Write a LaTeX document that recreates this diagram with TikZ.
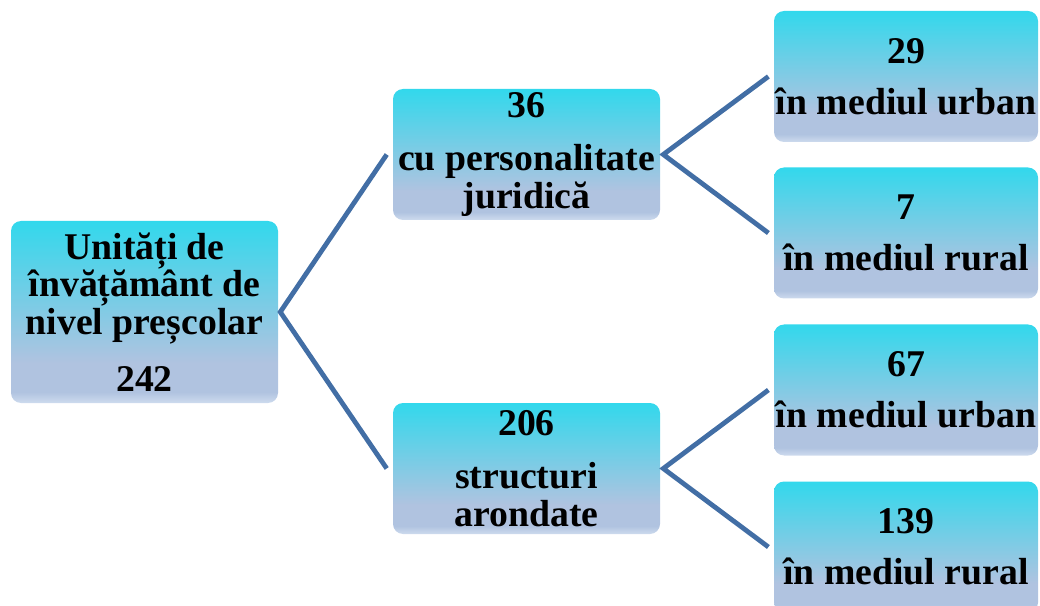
\documentclass[tikz,border=0pt]{standalone}
\usepackage{fontspec}
\setmainfont{Liberation Serif}
\definecolor{ctop}{RGB}{50,216,236}
\definecolor{clav}{RGB}{176,195,224}
\definecolor{cbot}{RGB}{206,219,238}
\definecolor{linec}{RGB}{66,110,165}
\pgfdeclareverticalshading{boxshade}{100bp}{color(0bp)=(cbot); color(25bp)=(cbot); color(28bp)=(clav); color(36bp)=(clav); color(75bp)=(ctop); color(100bp)=(ctop)}
\tikzset{
  box/.style={shade, shading=boxshade, rounded corners=7.5pt, inner sep=0pt, align=center,
    font=\bfseries\fontsize{28.3}{28.1}\selectfont},
  rootbox/.style={box, minimum width=200.25pt, minimum height=136.5pt},
  midbox/.style={box, minimum width=200.25pt, minimum height=98.25pt},
  leafbox/.style={box, minimum width=198pt, minimum height=98.25pt},
  conn/.style={draw=linec, line width=3.6pt}
}
\begin{document}
\begin{tikzpicture}[x=0.75pt,y=0.75pt]
\useasboundingbox (0,0) rectangle (1040,-606);
\clip (0,0) rectangle (1040,-606);
\node[rootbox] (root) at (144.5,-312) {Unități de\\învățământ de\\nivel preșcolar\\[15pt]242};
\node[midbox] (mid1) at (526.5,-154.5) {36\\[12pt]cu personalitate\\juridică};
\node[midbox] (mid2) at (526.5,-468.5) {206\\[12pt]structuri\\arondate};
\node[leafbox] (leaf1) at (906,-76.5) {29\\[10pt]în mediul urban};
\node[leafbox] (leaf2) at (906,-233) {7\\[10pt]în mediul rural};
\node[leafbox] (leaf3) at (906,-390) {67\\[10pt]în mediul urban};
\node[leafbox] (leaf4) at (906,-547) {139\\[10pt]în mediul rural};
\draw[conn] ([xshift=-4.5pt]mid1.west) -- ([xshift=1.5pt]root.east) -- ([xshift=-4.5pt]mid2.west);
\draw[conn] ([xshift=-4pt]leaf1.west) -- ([xshift=2.25pt]mid1.east) -- ([xshift=-4pt]leaf2.west);
\draw[conn] ([xshift=-4pt]leaf3.west) -- ([xshift=2.25pt]mid2.east) -- ([xshift=-4pt]leaf4.west);
\end{tikzpicture}
\end{document}
